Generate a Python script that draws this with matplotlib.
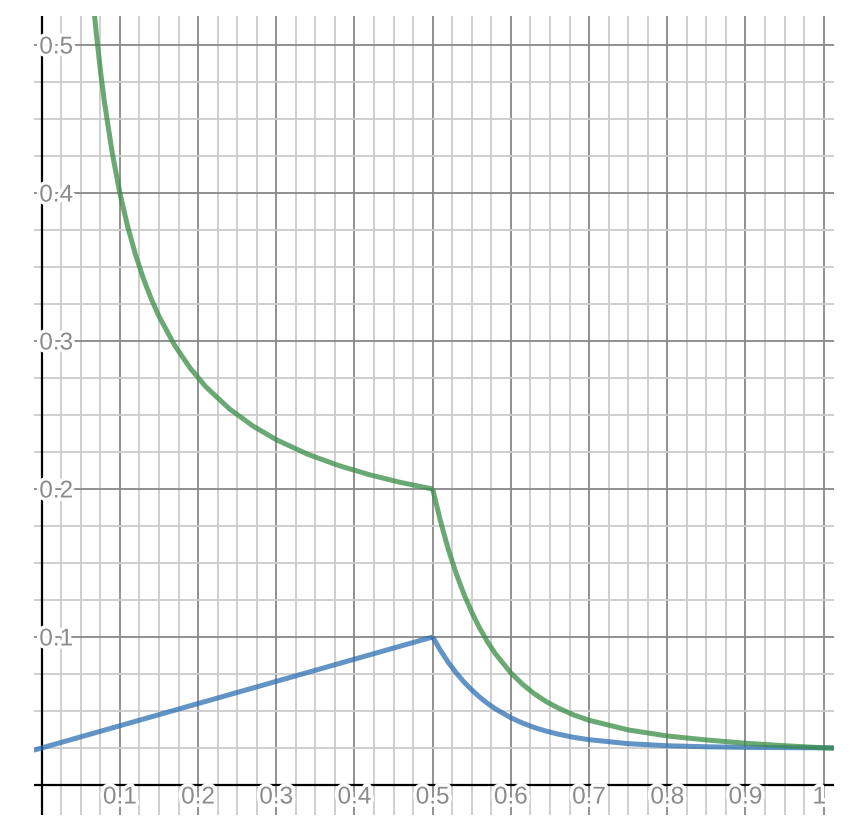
import numpy as np
import matplotlib.pyplot as plt
import matplotlib.patheffects as pe

# values
blue_x1 = [-0.01, 0.0, 0.5]
blue_y1 = [0.0235, 0.025, 0.1]

green_x1 = [0.066, 0.07, 0.075, 0.08, 0.09, 0.10, 0.11, 0.12, 0.13, 0.14, 0.15,
            0.17, 0.19, 0.21, 0.24, 0.27, 0.30, 0.34, 0.38, 0.42, 0.46, 0.50]
green_y1 = [0.5288, 0.5071, 0.4833, 0.4625, 0.4278, 0.4000, 0.3773, 0.3583, 0.3423,
            0.3286, 0.3167, 0.2971, 0.2816, 0.2690, 0.2542, 0.2426, 0.2333, 0.2235,
            0.2158, 0.2095, 0.2043, 0.2000]

decay_x = [0.50, 0.51, 0.52, 0.53, 0.54, 0.55, 0.56, 0.57, 0.58, 0.60, 0.615, 0.63,
           0.645, 0.66, 0.68, 0.70, 0.75, 0.80, 0.85, 0.90, 0.95, 1.00, 1.013]
blue_decay = [0.1000, 0.0909, 0.0828, 0.0758, 0.0696, 0.0642, 0.0594, 0.0552, 0.0515,
              0.0454, 0.0418, 0.0388, 0.0364, 0.0344, 0.0322, 0.0306, 0.0279, 0.0265,
              0.0258, 0.0254, 0.0252, 0.0251, 0.0251]
green_decay = [0.2000, 0.1782, 0.1592, 0.1430, 0.1289, 0.1167, 0.1061, 0.0968, 0.0888,
               0.0757, 0.0680, 0.0616, 0.0564, 0.0521, 0.0474, 0.0437, 0.0372, 0.0331,
               0.0304, 0.0282, 0.0265, 0.0251, 0.0248]

x_labels = ["0.1", "0.2", "0.3", "0.4", "0.5", "0.6", "0.7", "0.8", "0.9", "1"]
x_label_pos = [0.1, 0.2, 0.3, 0.4, 0.5, 0.6, 0.7, 0.8, 0.9, 1.0]
y_labels = ["0.1", "0.2", "0.3", "0.4", "0.5"]
y_label_pos = [0.1, 0.2, 0.3, 0.4, 0.5]

blue = "#2d70b3"
green = "#388c46"

fig = plt.figure(figsize=(8.64, 8.36), dpi=100)
ax = fig.add_axes([34 / 864, 21 / 836, 800 / 864, 799 / 836])
ax.set_xlim(-0.0098, 1.0132)
ax.set_ylim(-0.0203, 0.5196)

# grid: major every 0.1, minor every 0.025
ax.set_xticks(np.arange(0, 1.01, 0.1))
ax.set_xticks(np.arange(0, 1.02, 0.025), minor=True)
ax.set_yticks(np.arange(0, 0.51, 0.1))
ax.set_yticks(np.arange(0, 0.52, 0.025), minor=True)
ax.grid(which="major", color="#888888", lw=1.3, zorder=0)
ax.grid(which="minor", color="#cccccc", lw=1.3, zorder=0)
ax.set_axisbelow(True)
ax.tick_params(which="both", length=0, labelbottom=False, labelleft=False)
for s in ax.spines.values():
    s.set_visible(False)

ax.axhline(0, color="black", lw=1.6, zorder=1)
ax.axvline(0, color="black", lw=1.6, zorder=1)

for xs, ys, c in [(blue_x1, blue_y1, blue), (decay_x, blue_decay, blue),
                  (green_x1, green_y1, green), (decay_x, green_decay, green)]:
    ax.plot(xs, ys, color=c, lw=3.6, alpha=0.75, zorder=3, solid_capstyle="butt")

halo = [pe.withStroke(linewidth=5, foreground="white")]
for lab, xp in zip(x_labels, x_label_pos):
    if lab == "1":
        ax.text(1.003, -0.0068, lab, ha="right", va="center_baseline", fontsize=17.5,
                color="#8c8c8c", family="Liberation Sans", path_effects=halo, zorder=4)
    else:
        ax.text(xp, -0.0068, lab, ha="center", va="center_baseline", fontsize=17.5,
                color="#8c8c8c", family="Liberation Sans", path_effects=halo, zorder=4)
for lab, yp in zip(y_labels, y_label_pos):
    ax.text(-0.0030, yp, lab, ha="left", va="center_baseline", fontsize=17.5,
            color="#8c8c8c", family="Liberation Sans", path_effects=halo, zorder=4)

fig.savefig("out.png", dpi=100)
